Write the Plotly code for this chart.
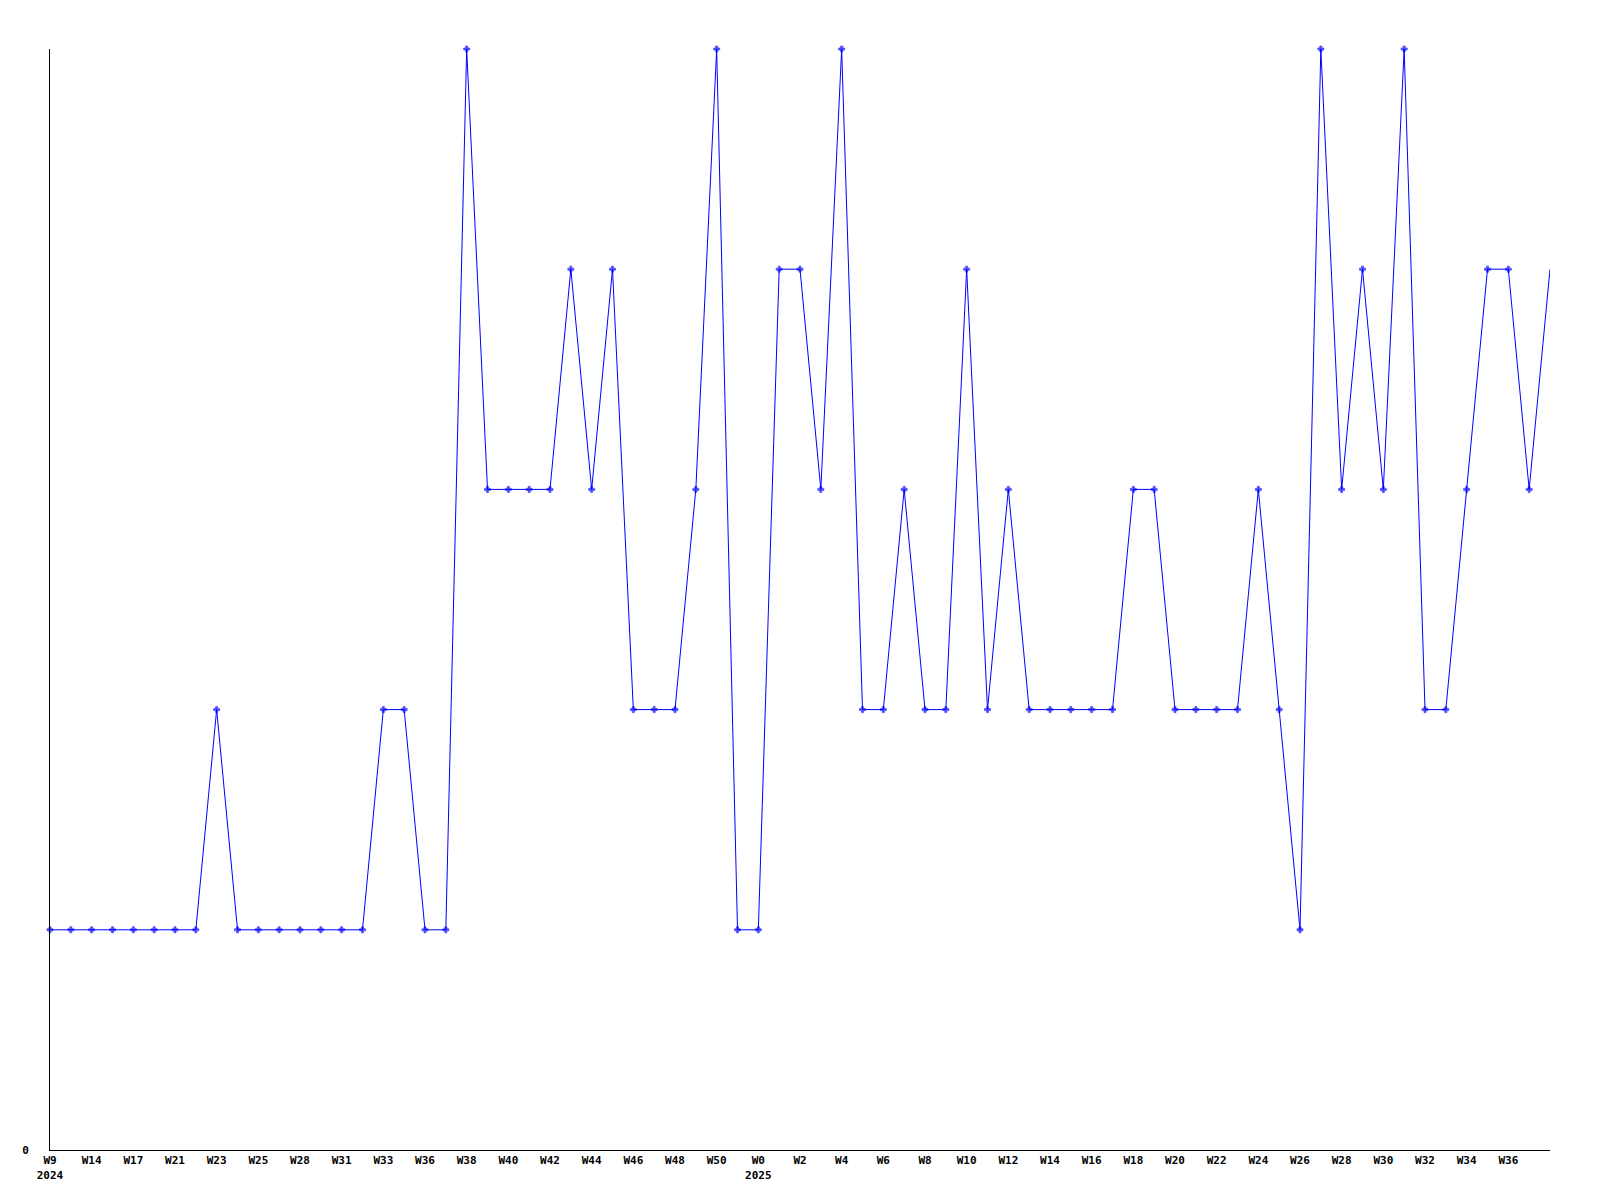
import plotly.graph_objects as go

# Weekly values, one per data point (73 points)
values = [1, 1, 1, 1, 1, 1, 1, 1, 2, 1,
          1, 1, 1, 1, 1, 1, 2, 2, 1, 1,
          5, 3, 3, 3, 3, 4, 3, 4, 2, 2,
          2, 3, 5, 1, 1, 4, 4, 3, 5, 2,
          2, 3, 2, 2, 4, 2, 3, 2, 2, 2,
          2, 2, 3, 3, 2, 2, 2, 2, 3, 2,
          1, 5, 3, 4, 3, 5, 2, 2, 3, 4,
          4, 3, 4]

# Tick labels shown on every second point
tick_labels = ["W9<br>2024", "W14", "W17", "W21", "W23", "W25", "W28", "W31", "W33",
               "W36", "W38", "W40", "W42", "W44", "W46", "W48", "W50", "W0<br>2025",
               "W2", "W4", "W6", "W8", "W10", "W12", "W14", "W16", "W18", "W20",
               "W22", "W24", "W26", "W28", "W30", "W32", "W34", "W36"]

x_index = list(range(len(values)))
tick_positions = [2 * i for i in range(len(tick_labels))]
# the final point in the reference has no marker drawn
marker_sizes = [5] * (len(values) - 1) + [0]

fig = go.Figure()
fig.add_trace(go.Scatter(
    x=x_index, y=values, mode="lines+markers",
    line=dict(color="#0000FF", width=1),
    marker=dict(symbol="cross", size=marker_sizes, color="#0000FF",
                line=dict(width=0.8, color="#0000FF")),
    cliponaxis=False, showlegend=False, hoverinfo="skip",
))

font = dict(family="DejaVu Sans Mono", size=11, color="#000000")

fig.update_layout(
    width=1600, height=1200,
    margin=dict(l=42, r=58, t=41, b=58),
    paper_bgcolor="white", plot_bgcolor="white",
    font=font,
    xaxis=dict(
        range=[0, len(values) - 1],
        tickmode="array", tickvals=tick_positions, ticktext=tick_labels,
        showgrid=False, zeroline=False, showline=True, linecolor="black", linewidth=1,
        ticks="", tickangle=0, tickfont=dict(family="DejaVu Sans Mono", size=11, weight="bold"),
    ),
    yaxis=dict(
        range=[0, 5],
        tickmode="array", tickvals=[0], ticktext=["0"],
        showgrid=False, zeroline=False, showline=True, linecolor="black", linewidth=1,
        ticks="", ticklabelstandoff=18,
        tickfont=dict(family="DejaVu Sans Mono", size=11, weight="bold"),
    ),
)

fig.write_html("out.html")
